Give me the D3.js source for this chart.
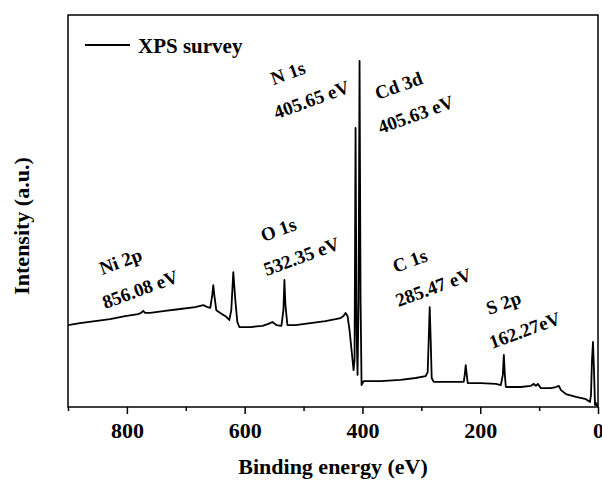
<!DOCTYPE html>
<html>
<head>
<meta charset="utf-8">
<script src="https://cdn.jsdelivr.net/npm/d3@7"></script>
<style>
  body { margin: 0; background: #fff; }
  text { font-family: "Liberation Serif", "Times New Roman", serif; font-weight: bold; fill: #000; }
</style>
</head>
<body>
<div id="chart"></div>
<script>
"use strict";

// XPS survey spectrum (binding energy in eV, intensity in a.u.)
var bindingEnergy = [900.0, 879.6, 854.1, 828.5, 803.0, 780.9, 775.8, 772.4, 769.0, 760.5,
    735.0, 709.4, 683.9, 670.3, 663.5, 658.4, 655.0, 653.3, 651.6, 648.2,
    641.4, 631.2, 626.1, 622.7, 619.3, 615.9, 612.5, 609.1, 590.4, 569.9,
    559.7, 552.9, 546.1, 537.6, 534.2, 532.5, 530.8, 527.4, 513.8, 488.3,
    462.8, 445.7, 437.2, 432.1, 428.7, 425.3, 421.9, 418.5, 416.8, 415.1,
    413.4, 411.7, 410.0, 408.3, 406.6, 404.9, 403.2, 401.5, 398.1, 369.2,
    335.2, 309.6, 292.6, 289.2, 287.5, 285.8, 284.1, 282.4, 279.0, 250.1,
    228.0, 226.3, 224.6, 222.9, 221.2, 199.1, 173.5, 165.0, 161.6, 159.9,
    158.2, 156.5, 148.0, 131.0, 114.0, 108.9, 105.5, 102.1, 97.0, 80.0,
    71.5, 66.4, 62.9, 54.4, 37.4, 20.4, 13.6, 11.9, 10.2, 8.5,
    6.8, 5.1, 3.4, 1.7, 0.0];
var intensity = [20.9, 21.4, 21.9, 22.4, 23.2, 23.7, 24.0, 24.5, 24.0, 24.0,
    24.5, 25.0, 25.5, 26.0, 25.5, 25.3, 28.6, 31.1, 28.6, 24.7,
    24.0, 23.0, 22.2, 24.7, 34.4, 27.3, 21.7, 20.4, 20.4, 20.7,
    21.2, 21.7, 20.9, 20.7, 24.7, 32.4, 26.0, 20.9, 20.9, 21.4,
    21.9, 22.4, 22.7, 23.2, 24.0, 23.2, 19.6, 14.5, 12.0, 9.4,
    12.0, 71.2, 19.6, 8.2, 27.3, 88.3, 27.3, 5.6, 6.6, 6.6,
    6.9, 7.4, 7.9, 8.9, 17.1, 25.5, 17.1, 7.4, 6.4, 6.4,
    6.4, 8.2, 10.7, 8.2, 6.1, 6.1, 5.9, 5.6, 8.2, 13.3,
    8.2, 5.1, 5.1, 5.1, 5.4, 5.9, 5.4, 5.9, 4.8, 4.8,
    5.1, 5.4, 4.3, 3.3, 2.6, 2.0, 1.3, 3.1, 12.0, 16.6,
    9.4, 0.5, 1.0, 0.3, 0.5];

var xTicks = [800, 600, 400, 200, 0];
var xMinorTicks = [900, 700, 500, 300, 100];
var legendLabel = "XPS survey";

// peak annotations: element line and binding energy
var peakNames = ["N 1s", "Cd 3d", "O 1s", "Ni 2p", "C 1s", "S 2p"];
var peakEnergies = ["405.65 eV", "405.63 eV", "532.35 eV", "856.08 eV", "285.47 eV", "162.27eV"];
// where each annotation sits, in data units [eV, a.u.]
var labelAnchors = [[551, 82.1], [374, 78.3], [568, 42.1], [842, 33.7], [344, 34.2], [185, 23.5]];

var width = 602, height = 483;
var margin = {top: 15, right: 4, bottom: 76, left: 68};
var plotW = width - margin.left - margin.right,
    plotH = height - margin.top - margin.bottom;

var svg = d3.select("#chart").append("svg")
    .attr("width", width)
    .attr("height", height);

var g = svg.append("g")
    .attr("transform", "translate(" + margin.left + "," + margin.top + ")");

var x = d3.scaleLinear().domain([900, 0]).range([0, plotW]);
var y = d3.scaleLinear().domain([0, 100]).range([plotH, 0]);

// x axis: major ticks labelled, minor ticks in between
g.append("g")
    .attr("transform", "translate(0," + plotH + ")")
    .call(d3.axisBottom(x).tickValues(xMinorTicks).tickSize(4).tickFormat(""))
    .call(function(a) { a.select(".domain").remove(); a.selectAll("line").attr("stroke-width", 1.5); });

var xAxis = g.append("g")
    .attr("transform", "translate(0," + plotH + ")")
    .call(d3.axisBottom(x).tickValues(xTicks).tickSize(7).tickPadding(8).tickFormat(d3.format("d")));
xAxis.select(".domain").remove();
xAxis.selectAll("line").attr("stroke-width", 1.5);
xAxis.selectAll("text")
    .attr("font-size", 22)
    .attr("font-family", "Liberation Serif, serif")
    .attr("font-weight", "bold");

// frame
g.append("rect")
    .attr("width", plotW)
    .attr("height", plotH)
    .attr("fill", "none")
    .attr("stroke", "#000")
    .attr("stroke-width", 1.5);

// spectrum
var line = d3.line()
    .x(function(d, i) { return x(bindingEnergy[i]); })
    .y(function(d) { return y(d); });

g.append("path")
    .datum(intensity)
    .attr("fill", "none")
    .attr("stroke", "#000")
    .attr("stroke-width", 1.8)
    .attr("stroke-linejoin", "round")
    .attr("d", line);

// annotations (two lines each, tilted)
labelAnchors.forEach(function(a, i) {
    var px = x(a[0]), py = y(a[1]);
    g.append("text")
        .attr("transform", "translate(" + px + "," + py + ") rotate(-20)")
        .attr("font-size", 19)
        .text(peakNames[i]);
    g.append("text")
        .attr("transform", "translate(" + (px + 3) + "," + (py + 34) + ") rotate(-20)")
        .attr("font-size", 19)
        .text(peakEnergies[i]);
});

// legend
g.append("line")
    .attr("x1", 17).attr("x2", 62)
    .attr("y1", 30).attr("y2", 30)
    .attr("stroke", "#000")
    .attr("stroke-width", 1.8);
g.append("text")
    .attr("x", 70).attr("y", 38)
    .attr("font-size", 21)
    .text(legendLabel);

// axis titles
svg.append("text")
    .attr("x", margin.left + plotW / 2)
    .attr("y", 474)
    .attr("text-anchor", "middle")
    .attr("font-size", 22)
    .text("Binding energy (eV)");

svg.append("text")
    .attr("transform", "translate(29," + (margin.top + plotH / 2 + 15) + ") rotate(-90)")
    .attr("text-anchor", "middle")
    .attr("font-size", 22)
    .text("Intensity (a.u.)");
</script>
</body>
</html>
